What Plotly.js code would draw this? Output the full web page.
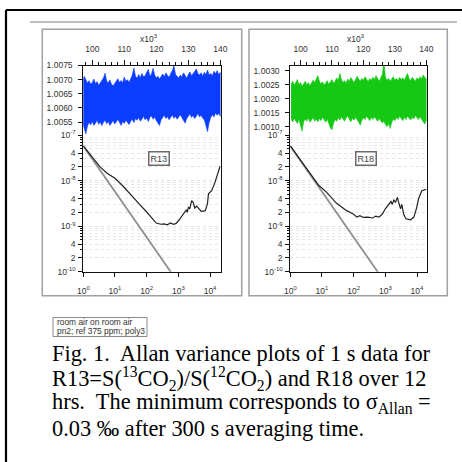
<!DOCTYPE html>
<html>
<head>
<meta charset="utf-8">
<script src="https://cdn.plot.ly/plotly-3.0.1.min.js"></script>
<style>
html,body{margin:0;padding:0;background:#fff;}
#chart{width:462px;height:462px;}
</style>
</head>
<body>
<div id="chart"></div>
<script>
// ---------- DATA ----------
// time axis of the raw 1 s data, in units of 10^3 s
const timeK = [97.0,97.5,98.0,98.5,99.0,99.5,100.0,100.5,101.0,101.5,102.0,102.5,103.0,103.5,104.0,104.5,105.0,105.5,106.0,106.5,107.0,107.5,108.0,108.5,109.0,109.5,110.0,110.5,111.0,111.5,112.0,112.5,113.0,113.5,114.0,114.5,115.0,115.5,116.0,116.5,117.0,117.5,118.0,118.5,119.0,119.5,120.0,120.5,121.0,121.5,122.0,122.5,123.0,123.5,124.0,124.5,125.0,125.5,126.0,126.5,127.0,127.5,128.0,128.5,129.0,129.5,130.0,130.5,131.0,131.5,132.0,132.5,133.0,133.5,134.0,134.5,135.0,135.5,136.0,136.5,137.0,137.5,138.0,138.5,139.0,139.5,140.0,140.5];

// R13 raw data: upper and lower envelope of the noise band
const r13Upper = [1.00695,1.00712,1.00700,1.00688,1.00696,1.00684,1.00690,1.00702,1.00686,1.00693,1.00680,1.00689,1.00697,1.00706,1.00723,1.00695,1.00688,1.00699,1.00684,1.00678,1.00686,1.00694,1.00703,1.00690,1.00697,1.00688,1.00709,1.00694,1.00700,1.00690,1.00703,1.00716,1.00741,1.00712,1.00705,1.00718,1.00707,1.00722,1.00710,1.00714,1.00726,1.00736,1.00712,1.00720,1.00740,1.00716,1.00706,1.00712,1.00702,1.00714,1.00720,1.00710,1.00724,1.00715,1.00708,1.00722,1.00731,1.00749,1.00718,1.00712,1.00706,1.00716,1.00710,1.00724,1.00713,1.00705,1.00718,1.00727,1.00714,1.00720,1.00729,1.00738,1.00722,1.00716,1.00724,1.00712,1.00726,1.00718,1.00734,1.00716,1.00722,1.00713,1.00730,1.00721,1.00732,1.00718,1.00726,1.00720];
const r13Lower = [1.00545,1.00530,1.00508,1.00536,1.00548,1.00540,1.00552,1.00538,1.00546,1.00556,1.00542,1.00550,1.00537,1.00549,1.00556,1.00544,1.00552,1.00538,1.00547,1.00555,1.00543,1.00550,1.00560,1.00547,1.00538,1.00552,1.00545,1.00556,1.00549,1.00541,1.00553,1.00560,1.00548,1.00562,1.00556,1.00566,1.00553,1.00560,1.00570,1.00558,1.00564,1.00552,1.00566,1.00572,1.00560,1.00568,1.00555,1.00546,1.00538,1.00558,1.00566,1.00574,1.00562,1.00569,1.00558,1.00566,1.00575,1.00563,1.00570,1.00560,1.00568,1.00576,1.00564,1.00556,1.00546,1.00562,1.00570,1.00578,1.00566,1.00573,1.00562,1.00570,1.00580,1.00568,1.00574,1.00563,1.00558,1.00540,1.00516,1.00548,1.00566,1.00576,1.00568,1.00582,1.00574,1.00580,1.00570,1.00576];

// R18 raw data: upper and lower envelope of the noise band
const r18Upper = [1.00252,1.00262,1.00248,1.00256,1.00268,1.00250,1.00258,1.00244,1.00255,1.00262,1.00250,1.00257,1.00246,1.00254,1.00266,1.00258,1.00270,1.00282,1.00262,1.00252,1.00260,1.00248,1.00256,1.00264,1.00251,1.00258,1.00268,1.00255,1.00262,1.00274,1.00266,1.00290,1.00268,1.00258,1.00264,1.00256,1.00270,1.00262,1.00275,1.00266,1.00258,1.00268,1.00280,1.00270,1.00262,1.00272,1.00266,1.00278,1.00268,1.00260,1.00272,1.00265,1.00276,1.00268,1.00282,1.00270,1.00262,1.00274,1.00286,1.00330,1.00276,1.00266,1.00272,1.00262,1.00270,1.00278,1.00266,1.00272,1.00264,1.00276,1.00268,1.00274,1.00266,1.00280,1.00290,1.00272,1.00264,1.00276,1.00268,1.00262,1.00274,1.00268,1.00278,1.00270,1.00284,1.00274,1.00268,1.00276];
const r18Lower = [1.00128,1.00118,1.00130,1.00122,1.00112,1.00126,1.00104,1.00084,1.00118,1.00128,1.00120,1.00132,1.00116,1.00124,1.00134,1.00120,1.00128,1.00118,1.00130,1.00122,1.00134,1.00126,1.00116,1.00128,1.00110,1.00096,1.00090,1.00114,1.00126,1.00120,1.00132,1.00124,1.00136,1.00128,1.00120,1.00132,1.00138,1.00126,1.00118,1.00130,1.00124,1.00134,1.00126,1.00116,1.00106,1.00124,1.00132,1.00126,1.00138,1.00130,1.00122,1.00134,1.00126,1.00136,1.00128,1.00120,1.00130,1.00124,1.00114,1.00120,1.00108,1.00100,1.00112,1.00094,1.00116,1.00128,1.00122,1.00134,1.00126,1.00138,1.00130,1.00122,1.00134,1.00126,1.00138,1.00130,1.00124,1.00134,1.00128,1.00140,1.00132,1.00126,1.00136,1.00128,1.00118,1.00110,1.00122,1.00130];

// Allan variance, R13 (averaging time tau in s)
const tauR13  = [1,2,3.37,5.6,10,17.8,31.6,56,100,141,200,282,355,447,562,708,851,1072,1318,1585,1778,1905,2089,2291,2630,2951,3311,3802,4467,5248,7079,8318,8913,11220,14125,17783,20893];
const avarR13 = [5.75e-8,3.16e-8,2.0e-8,1.45e-8,1.12e-8,7.6e-9,5.0e-9,3.16e-9,2.04e-9,1.51e-9,1.17e-9,1.10e-9,1.12e-9,1.07e-9,1.17e-9,1.10e-9,1.15e-9,1.38e-9,1.74e-9,2.0e-9,2.29e-9,2.0e-9,2.63e-9,2.4e-9,3.63e-9,3.3e-9,2.5e-9,2.75e-9,2.4e-9,2.1e-9,2.19e-9,3.16e-9,5.1e-9,6.0e-9,8.9e-9,1.41e-8,2.09e-8];
// white-noise reference line, R13
const tauWhiteR13  = [1,10,100,600];
const avarWhiteR13 = [5.7e-8,5.7e-9,5.7e-10,9.5e-11];

// Allan variance, R18
const tauR18  = [1,2,4,7.9,14.1,20,28.8,41.7,60,79,100,126,158,200,282,398,501,631,794,1000,1259,1514,1660,1862,2089,2399,2692,3020,3311,3802,4467,6310,7943,9550,11220,14125,19953];
const avarR18 = [5.75e-8,2.9e-8,1.48e-8,7.9e-9,5.5e-9,4.2e-9,3.16e-9,2.63e-9,2.19e-9,2.0e-9,1.82e-9,1.58e-9,1.7e-9,1.55e-9,1.58e-9,1.51e-9,1.66e-9,1.58e-9,1.82e-9,2.4e-9,2.9e-9,3.47e-9,3.0e-9,3.8e-9,3.3e-9,4.27e-9,3.16e-9,2.4e-9,3.0e-9,1.82e-9,1.45e-9,1.38e-9,1.58e-9,2.4e-9,3.98e-9,6.0e-9,6.46e-9];
// white-noise reference line, R18
const tauWhiteR18  = [1,10,100,600];
const avarWhiteR18 = [5.7e-8,5.7e-9,5.7e-10,9.5e-11];

// tick labels
const tauTickVals = [1,10,100,1000,10000];
const tauTickText = ['10<sup>0</sup>','10<sup>1</sup>','10<sup>2</sup>','10<sup>3</sup>','10<sup>4</sup>'];
const avarTickVals = [1e-10,2e-10,4e-10,1e-9,2e-9,4e-9,1e-8,2e-8,4e-8,1e-7];
const avarTickText = ['10<sup>-10</sup>','2','4','10<sup>-9</sup>','2','4','10<sup>-8</sup>','2','4','10<sup>-7</sup>'];
const avarMinorVals = [2e-10,3e-10,4e-10,5e-10,6e-10,7e-10,8e-10,9e-10,2e-9,3e-9,4e-9,5e-9,6e-9,7e-9,8e-9,9e-9,2e-8,3e-8,4e-8,5e-8,6e-8,7e-8,8e-8,9e-8];
const panelLabels = ['R13','R18'];
const legendLines = ['room air on room air','pn2; ref 375 ppm; poly3'];
const captionLines = [
  'Fig. 1.\u00a0 Allan variance plots of 1 s data for',
  'R13=S(<sup>13</sup>CO<sub>2</sub>)/S(<sup>12</sup>CO<sub>2</sub>) and R18 over 12',
  'hrs.\u00a0 The minimum corresponds to \u03c3<sub>Allan</sub> =',
  '0.03 \u2030 after 300 s averaging time.'
];

// ---------- LAYOUT HELPERS ----------
const W = 462;
const X = p => p / W;          // pixel -> paper x
const Y = p => 1 - p / W;      // pixel -> paper y

const axisColor = '#111';
const tickFont = {family: 'Liberation Sans, Arial, sans-serif', size: 8.5, color: '#333'};

function band(t, hi, lo) {
  return {x: t.concat(t.slice().reverse()), y: hi.concat(lo.slice().reverse())};
}
const b13 = band(timeK, r13Upper, r13Lower);
const b18 = band(timeK, r18Upper, r18Lower);

const traces = [
  {x: b13.x, y: b13.y, xaxis: 'x', yaxis: 'y', type: 'scatter', mode: 'lines', fill: 'toself',
   fillcolor: '#0b3dff', line: {color: '#0b3dff', width: 0.6}, hoverinfo: 'skip'},
  {x: tauWhiteR13, y: avarWhiteR13, xaxis: 'x2', yaxis: 'y2', type: 'scatter', mode: 'lines',
   line: {color: '#8f8f8f', width: 1.8}},
  {x: tauR13, y: avarR13, xaxis: 'x2', yaxis: 'y2', type: 'scatter', mode: 'lines',
   line: {color: '#222', width: 1.2}},
  {x: b18.x, y: b18.y, xaxis: 'x3', yaxis: 'y3', type: 'scatter', mode: 'lines', fill: 'toself',
   fillcolor: '#14c814', line: {color: '#14c814', width: 0.6}, hoverinfo: 'skip'},
  {x: tauWhiteR18, y: avarWhiteR18, xaxis: 'x4', yaxis: 'y4', type: 'scatter', mode: 'lines',
   line: {color: '#8f8f8f', width: 1.8}},
  {x: tauR18, y: avarR18, xaxis: 'x4', yaxis: 'y4', type: 'scatter', mode: 'lines',
   line: {color: '#222', width: 1.2}}
];

function timeAxis(dom, range, anchor) {
  return {domain: dom, range: range, anchor: anchor, side: 'top', showline: true, linecolor: axisColor,
    linewidth: 1, ticks: 'outside', ticklen: 5, tickcolor: axisColor, tick0: 100, dtick: 10,
    minor: {dtick: 2, tick0: 100, ticks: 'outside', ticklen: 3, tickcolor: axisColor},
    showgrid: false, zeroline: false, tickfont: tickFont, ticklabelstandoff: 4};
}
function rawYAxis(dom, range, anchor, tick0) {
  return {domain: dom, range: range, anchor: anchor, showline: true, mirror: true, linecolor: axisColor,
    linewidth: 1, ticks: 'outside', ticklen: 4, tickcolor: axisColor, tick0: tick0, dtick: 0.0005,
    tickformat: '.4f', showgrid: false, zeroline: false, tickfont: tickFont, ticklabelstandoff: 4};
}
function tauAxis(dom, range, anchor) {
  return {domain: dom, type: 'log', range: range, anchor: anchor, side: 'bottom', showline: true,
    linecolor: axisColor, linewidth: 1, ticks: 'outside', ticklen: 4, tickcolor: axisColor,
    tickmode: 'array', tickvals: tauTickVals, ticktext: tauTickText, showgrid: false, zeroline: false,
    tickfont: tickFont, ticklabelstandoff: 7};
}
function avarAxis(dom, anchor) {
  return {domain: dom, type: 'log', range: [-10, -7], anchor: anchor, showline: true, mirror: true,
    linecolor: axisColor, linewidth: 1, ticks: 'outside', ticklen: 4, tickcolor: axisColor,
    tickmode: 'array', tickvals: avarTickVals, ticktext: avarTickText,
    showgrid: true, gridcolor: '#e2e2e2', griddash: 'dot', gridwidth: 1,
    minor: {tickmode: 'array', tickvals: avarMinorVals, ticks: 'outside', ticklen: 2, tickcolor: axisColor,
            showgrid: true, gridcolor: '#e8e8e8', griddash: 'dot', gridwidth: 1},
    zeroline: false, tickfont: tickFont, ticklabelstandoff: 1};
}

const leftDom = [X(83.3), X(220.5)];
const rightDom = [X(290.3), X(426.5)];
const topDom = [Y(135), Y(65.5)];
const botDom = [Y(271.7), Y(135)];

const line = (x0, y0, x1, y1, color, width) => ({type: 'line', xref: 'paper', yref: 'paper',
  x0: X(x0), y0: Y(y0), x1: X(x1), y1: Y(y1), line: {color: color, width: width}});
const rect = (x0, y0, x1, y1, color, width) => ({type: 'rect', xref: 'paper', yref: 'paper',
  x0: X(x0), y0: Y(y0), x1: X(x1), y1: Y(y1), line: {color: color, width: width}, fillcolor: 'rgba(0,0,0,0)'});

const shapes = [
  line(6, 10, 462, 10, '#000', 2.2),
  line(6, 10, 6, 462, '#000', 2.2),
  line(30, 22, 457, 22, '#a8a8a8', 1.5),
  rect(42.3, 29.3, 241.7, 295.7, '#a0a0a0', 1.5),
  rect(249, 29.3, 447.3, 295.7, '#a0a0a0', 1.5),
  rect(53, 317.5, 147, 336.5, '#8a8a8a', 1)
];

const ann = [];
const smallFont = {family: 'Liberation Sans, Arial, sans-serif', size: 8.5, color: '#333'};
ann.push({xref: 'paper', yref: 'paper', x: X(149), y: Y(39), text: 'x10<sup>3</sup>', showarrow: false,
  font: smallFont, xanchor: 'center', yanchor: 'middle'});
ann.push({xref: 'paper', yref: 'paper', x: X(356), y: Y(39), text: 'x10<sup>3</sup>', showarrow: false,
  font: smallFont, xanchor: 'center', yanchor: 'middle'});
ann.push({xref: 'paper', yref: 'paper', x: X(158.8), y: Y(159), text: panelLabels[0], showarrow: false,
  font: {family: 'Liberation Sans, Arial, sans-serif', size: 9, color: '#444'},
  bordercolor: '#6a6a6a', borderwidth: 1.5, borderpad: 1, bgcolor: '#fff', xanchor: 'center', yanchor: 'middle'});
ann.push({xref: 'paper', yref: 'paper', x: X(365.8), y: Y(159), text: panelLabels[1], showarrow: false,
  font: {family: 'Liberation Sans, Arial, sans-serif', size: 9, color: '#444'},
  bordercolor: '#6a6a6a', borderwidth: 1.5, borderpad: 1, bgcolor: '#fff', xanchor: 'center', yanchor: 'middle'});
legendLines.forEach((t, i) => ann.push({xref: 'paper', yref: 'paper', x: X(54.5), y: Y(322.3 + i * 8.6),
  text: t, showarrow: false, font: {family: 'Liberation Sans, Arial, sans-serif', size: 8.4, color: '#333'},
  xanchor: 'left', yanchor: 'middle'}));
captionLines.forEach((t, i) => ann.push({xref: 'paper', yref: 'paper', x: X(50), y: Y(353 + i * 25),
  text: t, showarrow: false, font: {family: 'Liberation Serif, Times New Roman, serif', size: 22.4, color: '#000'},
  xanchor: 'left', yanchor: 'middle'}));

const layout = {
  width: 462, height: 462, margin: {l: 0, r: 0, t: 0, b: 0, pad: 0},
  paper_bgcolor: '#fff', plot_bgcolor: 'rgba(0,0,0,0)', showlegend: false,
  font: tickFont,
  xaxis: timeAxis(leftDom, [97.2, 140.05], 'y'),
  yaxis: rawYAxis(topDom, [1.00504, 1.0075], 'x', 1.0055),
  xaxis2: tauAxis(leftDom, [0, 4.33], 'y2'),
  yaxis2: avarAxis(botDom, 'x2'),
  xaxis3: timeAxis(rightDom, [96.75, 140.05], 'y3'),
  yaxis3: rawYAxis(topDom, [1.00071, 1.00318], 'x3', 1.0010),
  xaxis4: tauAxis(rightDom, [0, 4.30], 'y4'),
  yaxis4: avarAxis(botDom, 'x4'),
  shapes: shapes,
  annotations: ann
};

Plotly.newPlot('chart', traces, layout, {staticPlot: true, displayModeBar: false});
</script>
</body>
</html>
